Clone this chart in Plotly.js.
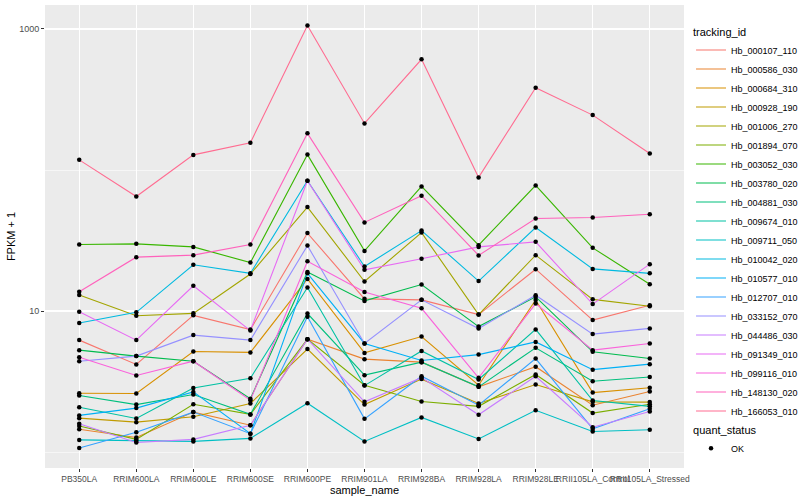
<!DOCTYPE html>
<html><head><meta charset="utf-8">
<script src="https://cdn.plot.ly/plotly-3.0.1.min.js"></script>
<style>html,body{margin:0;padding:0;background:#fff}#chart{width:800px;height:500px}</style>
</head><body><div id="chart"></div>
<script>
// x categories
const samples = ['PB350LA','RRIM600LA','RRIM600LE','RRIM600SE','RRIM600PE','RRIM901LA','RRIM928BA','RRIM928LA','RRIM928LE','RRII105LA_Control','RRII105LA_Stressed'];

// tracking ids (legend order)
const trackingIds = ['Hb_000107_110','Hb_000586_030','Hb_000684_310','Hb_000928_190','Hb_001006_270','Hb_001894_070','Hb_003052_030','Hb_003780_020','Hb_004881_030','Hb_009674_010','Hb_009711_050','Hb_010042_020','Hb_010577_010','Hb_012707_010','Hb_033152_070','Hb_044486_030','Hb_091349_010','Hb_099116_010','Hb_148130_020','Hb_166053_010'];

// ggplot default hue colours
const lineColors = ['#F8766D','#EA8331','#D89000','#C09B00','#A3A500','#7CAE00','#39B600','#00BB4E','#00BF7D','#00C1A3','#00BFC4','#00BAE0','#00B0F6','#35A2FF','#9590FF','#C77CFF','#E76BF3','#FA62DB','#FF62BC','#FF6C91'];

// FPKM + 1 per sample (same order as samples)
const Hb_000107_110 = [6.22, 4.18, 9.32, 7.39, 35.7, 12.2, 12.0, 9.44, 19.8, 8.63, 11.0];
const Hb_000586_030 = [1.45, 1.27, 1.92, 1.55, 6.32, 4.56, 4.34, 2.90, 4.03, 2.15, 2.69];
const Hb_000684_310 = [2.61, 2.60, 5.17, 5.09, 16.9, 5.05, 6.59, 2.98, 11.97, 2.64, 2.86];
const Hb_000928_190 = [1.74, 1.63, 1.78, 2.21, 5.37, 2.17, 3.29, 2.21, 3.01, 2.27, 2.26];
const Hb_001006_270 = [12.99, 9.26, 9.63, 18.3, 54.6, 16.2, 36.0, 9.44, 24.9, 12.1, 10.8];
const Hb_001894_070 = [1.53, 1.23, 2.18, 1.85, 6.32, 2.98, 2.28, 2.11, 3.55, 1.89, 2.18];
const Hb_003052_030 = [29.6, 29.95, 28.5, 22.05, 128.6, 26.7, 76.5, 29.3, 77.8, 28.05, 15.5];
const Hb_003780_020 = [5.28, 4.79, 4.41, 2.39, 18.9, 11.8, 15.4, 7.76, 12.6, 5.14, 4.61];
const Hb_004881_030 = [2.52, 2.17, 2.56, 1.85, 9.60, 3.51, 4.34, 2.90, 5.48, 3.18, 3.41];
const Hb_009674_010 = [2.08, 1.73, 2.85, 3.34, 14.7, 2.96, 5.21, 3.27, 7.41, 2.32, 2.11];
const Hb_009711_050 = [1.22, 1.20, 1.19, 1.25, 2.22, 1.19, 1.76, 1.24, 1.98, 1.40, 1.44];
const Hb_010042_020 = [8.22, 9.79, 21.3, 18.5, 84.0, 20.7, 37.2, 16.3, 39.1, 19.9, 18.5];
const Hb_010577_010 = [1.82, 2.05, 2.67, 1.35, 18.5, 5.89, 4.46, 4.91, 6.04, 3.84, 4.20];
const Hb_012707_010 = [1.07, 1.38, 1.92, 1.35, 9.11, 1.72, 3.45, 2.15, 4.60, 1.46, 2.03];
const Hb_033152_070 = [4.41, 4.79, 6.75, 6.22, 29.1, 5.89, 12.0, 7.51, 12.95, 6.86, 7.53];
const Hb_044486_030 = [1.59, 1.17, 1.23, 1.55, 6.32, 2.27, 3.37, 1.84, 3.45, 1.50, 1.94];
const Hb_091349_010 = [9.89, 6.22, 15.1, 7.27, 84.0, 19.6, 23.5, 28.5, 30.95, 11.2, 21.5];
const Hb_099116_010 = [4.71, 3.49, 4.41, 2.33, 22.5, 13.65, 10.45, 3.36, 11.3, 5.28, 5.89];
const Hb_148130_020 = [13.7, 24.1, 24.9, 29.6, 182, 42.5, 65.7, 24.8, 45.3, 46.05, 48.5];
const Hb_166053_010 = [118, 64.9, 128, 156, 1057, 214, 609, 88.6, 383, 245, 131];

const seriesValues = [Hb_000107_110, Hb_000586_030, Hb_000684_310, Hb_000928_190, Hb_001006_270, Hb_001894_070, Hb_003052_030, Hb_003780_020, Hb_004881_030, Hb_009674_010, Hb_009711_050, Hb_010042_020, Hb_010577_010, Hb_012707_010, Hb_033152_070, Hb_044486_030, Hb_091349_010, Hb_099116_010, Hb_148130_020, Hb_166053_010];

const quantStatus = ['OK'];

const traces = [];
trackingIds.forEach((id, i) => {
  traces.push({
    type: 'scatter', mode: 'lines', x: samples, y: seriesValues[i], name: id,
    line: {color: lineColors[i], width: 1.1}, legend: 'legend', showlegend: true
  });
});
trackingIds.forEach((id, i) => {
  traces.push({
    type: 'scatter', mode: 'markers', x: samples, y: seriesValues[i], name: quantStatus[0],
    marker: {color: '#000000', size: 4.5}, legend: 'legend2', legendgroup: 'qs', showlegend: i === 0
  });
});

const layout = {
  width: 800, height: 500,
  margin: {l: 45, r: 116, t: 5, b: 32, autoexpand: false},
  paper_bgcolor: '#FFFFFF', plot_bgcolor: '#EBEBEB',
  font: {family: 'Liberation Sans, Arial, sans-serif', size: 9, color: '#4D4D4D'},
  hovermode: false,
  xaxis: {
    type: 'category', categoryorder: 'array', categoryarray: samples, range: [-0.6, 10.6],
    showgrid: true, gridcolor: '#FFFFFF', gridwidth: 1.1, zeroline: false, showline: false,
    ticks: 'outside', ticklen: 3, tickcolor: '#333333', tickwidth: 1, tickangle: 0,
    tickfont: {size: 8.5, color: '#4D4D4D'},
    title: {text: 'sample_name', font: {size: 11, color: '#000000'}, standoff: 2}
  },
  yaxis: {
    type: 'log', range: [-0.113, 3.17], tickmode: 'array', tickvals: [10, 1000], ticktext: ['10', '1000'],
    showgrid: true, gridcolor: '#FFFFFF', gridwidth: 1.1, zeroline: false, showline: false,
    ticks: 'outside', ticklen: 3, tickcolor: '#333333', tickwidth: 1,
    tickfont: {size: 9, color: '#4D4D4D'},
    minor: {tickmode: 'array', tickvals: [1, 100], showgrid: true, gridcolor: '#FFFFFF', gridwidth: 0.55, ticks: ''},
    title: {text: 'FPKM + 1', font: {size: 11, color: '#000000'}, standoff: 1}
  },
  showlegend: true,
  legend: {
    title: {text: 'tracking_id', font: {size: 11, color: '#000000'}},
    x: 1.011, xanchor: 'left', y: 0.965, yanchor: 'top',
    font: {size: 9, color: '#000000'}, bgcolor: 'rgba(0,0,0,0)', itemwidth: 30, tracegroupgap: 0
  },
  legend2: {
    title: {text: 'quant_status', font: {size: 11, color: '#000000'}},
    x: 1.011, xanchor: 'left', y: 0.105, yanchor: 'top',
    font: {size: 9, color: '#000000'}, bgcolor: 'rgba(0,0,0,0)', itemwidth: 30
  }
};

Plotly.newPlot('chart', traces, layout, {staticPlot: true, displayModeBar: false});
</script>
</body></html>
